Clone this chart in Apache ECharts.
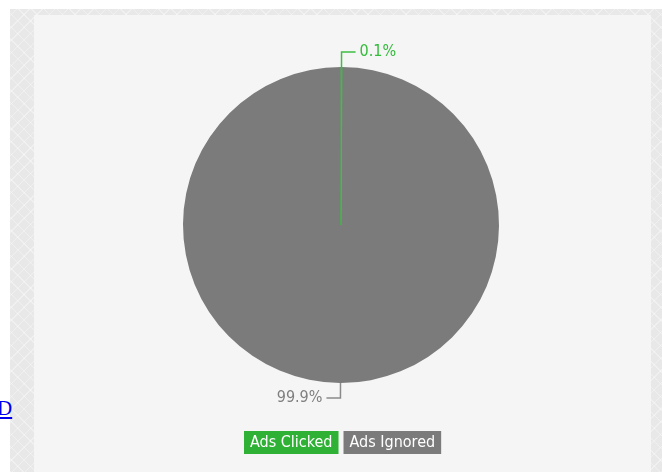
<!DOCTYPE html>
<html>
<head>
<meta charset="utf-8">
<script src="https://cdn.jsdelivr.net/npm/echarts@6/dist/echarts.min.js"></script>
<style>
html,body{margin:0;padding:0;background:#ffffff;width:662px;height:472px;overflow:hidden;}
#outer{position:absolute;left:10px;top:9px;width:652px;height:463px;background:#e8e8e8;
 background-image:repeating-linear-gradient(45deg,rgba(255,255,255,0.35) 0 1px,transparent 1px 9px),repeating-linear-gradient(-45deg,rgba(255,255,255,0.35) 0 1px,transparent 1px 9px);}
#panel{position:absolute;left:34px;top:15px;width:617px;height:457px;background:#f5f5f5;}
#lnk{position:absolute;left:-3px;top:396px;font-family:'Liberation Serif',serif;font-size:21px;color:#0000ee;text-decoration:underline;}
#chart{position:absolute;left:0;top:0;width:662px;height:472px;}
</style>
</head>
<body>
<div id="outer"></div>
<div id="panel"></div>
<a id="lnk" href="#">D</a>
<div id="chart"></div>
<script>
var categories = ['Ads Clicked', 'Ads Ignored'];
var values = [0.1, 99.9];
var colors = ['#2eb135', '#7b7b7b'];
var labelColors = ['#33bb3a', '#7f7f7f'];
var lineColors = ['#3cbf42', '#8a8a8a'];

var font = "'DejaVu Sans Condensed','Roboto',sans-serif";
var total = values.reduce(function (a, b) { return a + b; }, 0);
// draw "Ignored" first so the thin "Clicked" wedge is painted on top; same geometry
var order = [1, 0];
var startAngle = 90 - 360 * values[0] / total;

var chart = echarts.init(document.getElementById('chart'));
chart.setOption({
  backgroundColor: 'transparent',
  animation: false,
  legend: {
    top: 431,
    left: 239,
    itemWidth: 0,
    itemHeight: 0,
    itemGap: 0,
    icon: 'none',
    selectedMode: false,
    padding: 0,
    data: categories.map(function (c, i) {
      return {
        name: c,
        textStyle: {
          color: '#ffffff',
          backgroundColor: colors[i],
          padding: [4, 6, 4, 6],
          fontSize: 16,
          lineHeight: 15,
          fontFamily: font
        }
      };
    })
  },
  series: [{
    type: 'pie',
    center: [341, 225],
    radius: 158,
    startAngle: startAngle,
    clockwise: true,
    avoidLabelOverlap: false,
    data: order.map(function (i) {
      return {
        name: categories[i],
        value: values[i],
        itemStyle: i === 0
          ? { color: colors[i], borderColor: lineColors[i], borderWidth: 0.8 }
          : { color: colors[i], borderWidth: 0 },
        label: { color: labelColors[i] },
        labelLine: { lineStyle: { color: lineColors[i], width: 1.5, opacity: 1 } }
      };
    }),
    label: {
      show: true,
      formatter: function (p) { return p.value.toFixed(1) + '%'; },
      fontSize: 16,
      fontFamily: font,
      distanceToLabelLine: 4
    },
    labelLine: {
      show: true,
      length: 15,
      length2: 14
    },
    emphasis: { disabled: true }
  }]
});
</script>
</body>
</html>
